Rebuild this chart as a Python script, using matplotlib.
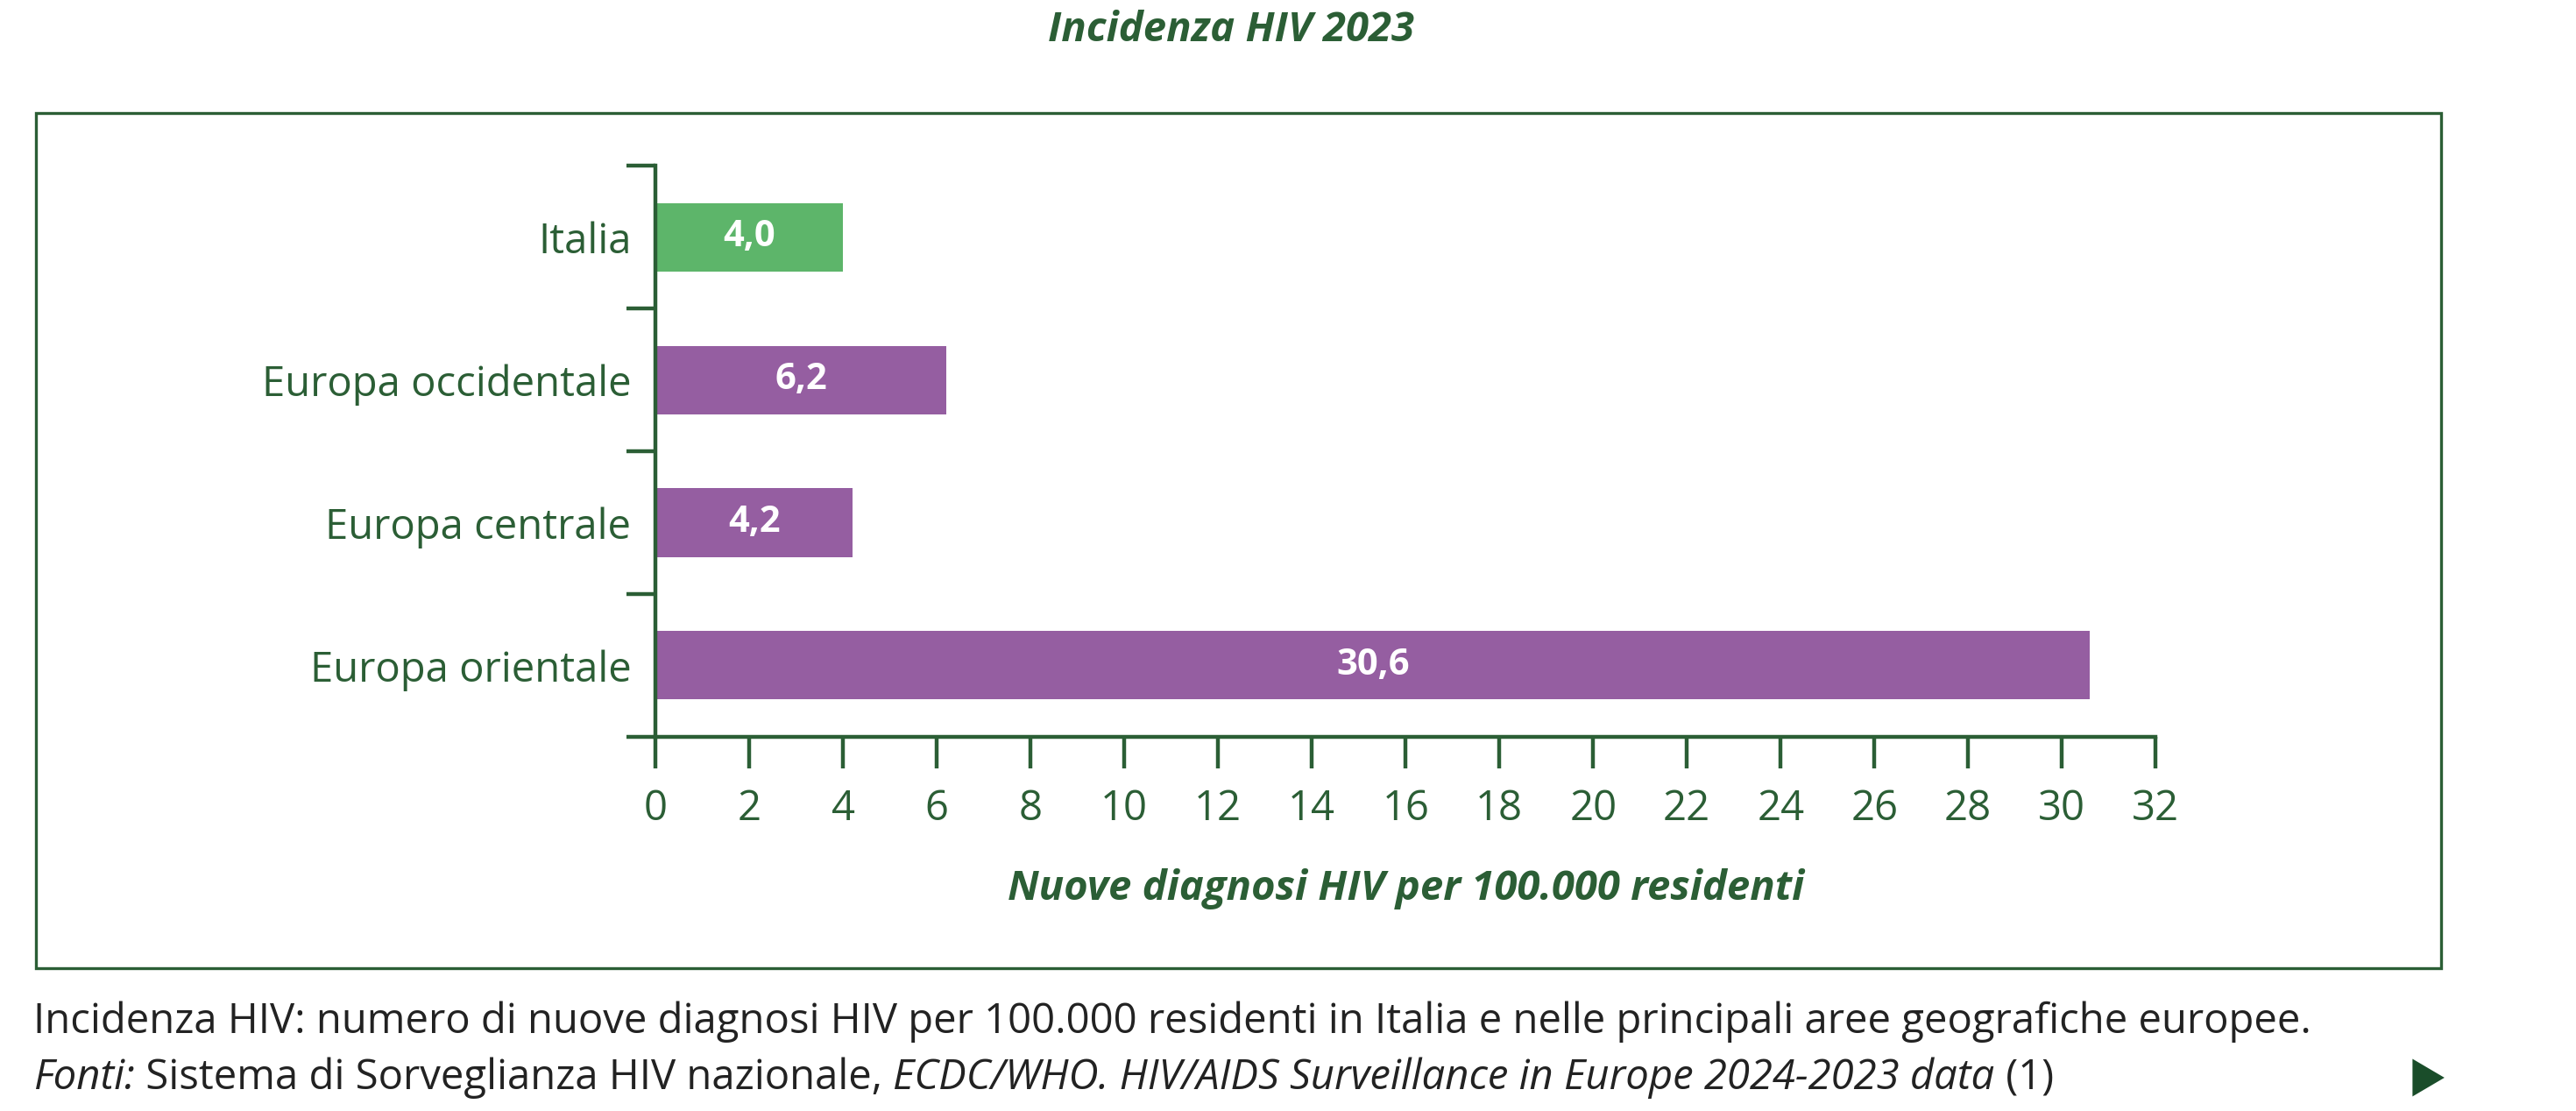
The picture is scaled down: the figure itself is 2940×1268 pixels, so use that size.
import matplotlib.pyplot as plt
from matplotlib.patches import Rectangle, Polygon
from matplotlib.offsetbox import TextArea, HPacker, AnchoredOffsetbox

plt.rcParams['font.family'] = ['Open Sans', 'DejaVu Sans']

regioni = ['Italia', 'Europa occidentale', 'Europa centrale', 'Europa orientale']
valori = [4.0, 6.2, 4.2, 30.6]
colori = ['#5db56a', '#955ea1', '#955ea1', '#955ea1']
xticks = list(range(0, 33, 2))

verde = '#2b5e35'
fs = 17

fig = plt.figure(figsize=(14.7, 6.34), dpi=200)
ax = fig.add_axes([0.2545, 0.337, 0.5823, 0.5136])

ypos = list(range(len(regioni)))
ax.barh(ypos, valori, height=0.48, color=colori)
for y, v in zip(ypos, valori):
    ax.text(v / 2, y, f'{v:.1f}'.replace('.', ','), ha='center', va='center',
            color='white', fontsize=15, fontweight='bold')

ax.set_ylim(3.5, -0.5)
ax.set_xlim(0, 32)
ax.set_yticks([y - 0.5 for y in range(len(regioni) + 1)])
ax.set_yticklabels([])
ax.set_yticks(ypos, minor=True)
ax.set_yticklabels(regioni, minor=True)
ax.tick_params(axis='y', which='minor', length=0, pad=10, labelsize=fs, labelcolor=verde)
ax.tick_params(axis='y', which='major', length=12, width=1.6, color=verde)
ax.set_xticks(xticks)
ax.tick_params(axis='x', length=13, width=1.6, color=verde, labelsize=fs, labelcolor=verde, pad=8)
for s in ['top', 'right']:
    ax.spines[s].set_visible(False)
for s in ['left', 'bottom']:
    ax.spines[s].set_color(verde)
    ax.spines[s].set_linewidth(1.6)
ax.set_xlabel('Nuove diagnosi HIV per 100.000 residenti', color=verde, fontsize=fs,
              fontweight='bold', style='italic', labelpad=16)

fig.text(0.478, 0.973, 'Incidenza HIV 2023', ha='center', va='center', color=verde,
         fontsize=fs, fontweight='bold', style='italic')
fig.patches.append(Rectangle((0.014, 0.1287), 0.9337, 0.7693, transform=fig.transFigure,
                             fill=False, edgecolor=verde, linewidth=1.2))

nero = '#222222'
fig.text(0.013, 0.08, 'Incidenza HIV: numero di nuove diagnosi HIV per 100.000 residenti in Italia '
         'e nelle principali aree geografiche europee.', fontsize=fs, color=nero, va='center')
parti = [('Fonti:', 'italic'), (' Sistema di Sorveglianza HIV nazionale, ', 'normal'),
         ('ECDC/WHO. HIV/AIDS Surveillance in Europe 2024-2023 data', 'italic'), (' (1)', 'normal')]
box = HPacker(children=[TextArea(t, textprops=dict(fontsize=fs, color=nero, style=st))
                        for t, st in parti], pad=0, sep=0)
fig.add_artist(AnchoredOffsetbox(loc='center left', child=box, pad=0, frameon=False,
                                 bbox_to_anchor=(0.013, 0.03), bbox_transform=fig.transFigure,
                                 borderpad=0))
fig.patches.append(Polygon([(0.937, 0.045), (0.937, 0.015), (0.948, 0.03)], closed=True,
                           transform=fig.transFigure, color='#1a4d2a'))

fig.savefig('out.png', dpi=200)
